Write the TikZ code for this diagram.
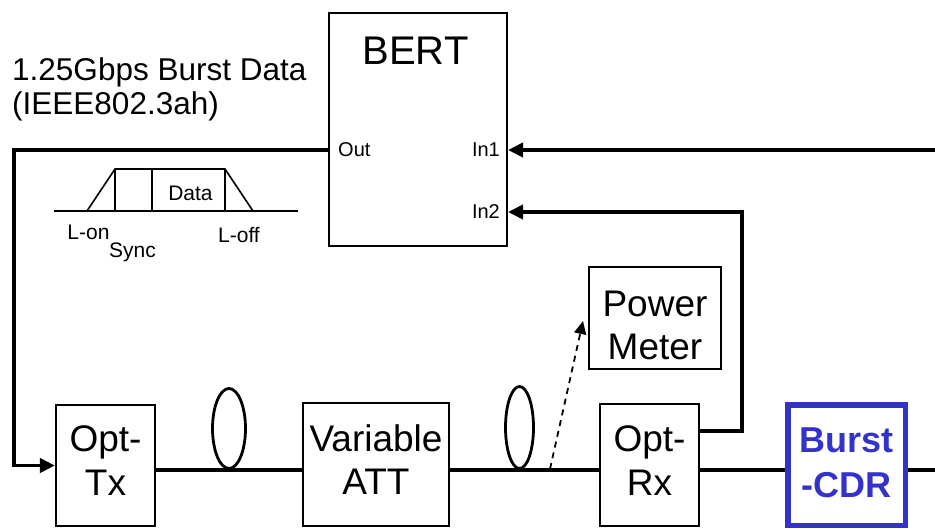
\documentclass[tikz,border=0pt]{standalone}
\usepackage{fontspec}
\setmainfont{Liberation Sans}
\usepackage{tikz}
\usetikzlibrary{arrows.meta, shapes.geometric}
\usepackage{xcolor}
\definecolor{cdrblue}{RGB}{51,51,204}

\begin{document}
\begin{tikzpicture}[x=1pt, y=-1pt, >={Triangle[length=15pt, width=14pt]},
  box/.style={draw, line width=1.6pt, inner sep=0pt, align=center, font=\fontsize{37}{43.5}\selectfont},
  sig/.style={line width=3.8pt},
  fibre/.style={line width=3.4pt},
  coil/.style={draw, ellipse, line width=2.8pt, inner sep=0pt},
  port/.style={inner sep=0pt, font=\fontsize{20}{22}\selectfont},
  small/.style={inner sep=0pt, font=\fontsize{21}{24}\selectfont}]

  \useasboundingbox (0,0) rectangle (935,528);

  % Draw BERT first
  \node[draw, line width=1.6pt, minimum width=178.4pt, minimum height=233.4pt] (bert) at (418,129.5) {};
  \node[anchor=base, inner sep=0pt, font=\fontsize{40}{44}\selectfont] (berttitle) at (415.5,64) {BERT};
  \node[port, anchor=west] (outlbl) at (338,150) {Out};
  \node[port, anchor=east] (in1lbl) at (500,150) {In1};
  \node[port, anchor=east] (in2lbl) at (500,212) {In2};

  % Burst data label
  \node[anchor=base west, inner sep=0pt, font=\fontsize{31.5}{36}\selectfont] (ratelbl) at (12,80.5) {1.25Gbps Burst Data};
  \node[anchor=base west, inner sep=0pt, font=\fontsize{31.5}{36}\selectfont] (stdlbl) at (12,114) {(IEEE802.3ah)};

  % Burst frame
  \draw[line width=1.6pt] (54,211) -- (298,211);
  \draw[line width=1.6pt] (87,211) -- (115,169) -- (225,169) -- (253,211);
  \draw[line width=1.6pt] (115,169) -- (115,211);
  \draw[line width=1.6pt] (152,169) -- (152,211);
  \draw[line width=1.6pt] (225,169) -- (225,211);
  \node[small] (datalbl) at (190.5,193) {Data};
  \node[small] (lonlbl) at (88.5,232) {L-on};
  \node[small] (synclbl) at (132.5,252.5) {Sync};
  \node[small] (lofflbl) at (239,235) {L-off};

  % Optical path
  \node[box, text depth=10pt, minimum width=99.5pt, minimum height=121.5pt] (opttx) at (105.5,465.5) {Opt-\\Tx};
  \node[coil, minimum width=33pt, minimum height=80pt] (coil1) at (229,428.5) {};
  \node[box, text depth=10pt, minimum width=146.5pt, minimum height=123.5pt] (varatt) at (376,464.5) {Variable\\ATT};
  \node[coil, minimum width=28pt, minimum height=82pt] (coil2) at (519.5,427.5) {};
  \node[box, text depth=9pt, minimum width=99.5pt, minimum height=122.5pt] (optrx) at (649.5,465) {Opt-\\Rx};
  \node[box, text height=84pt, minimum width=132.5pt, minimum height=102.5pt] (pmeter) at (655,318) {Power\\Meter};
  \node[box, draw=cdrblue, line width=5.5pt, text=cdrblue, font=\bfseries\fontsize{36}{45}\selectfont,
        text depth=5pt, minimum width=117.5pt, minimum height=120.5pt] (burstcdr) at (846.5,465) {Burst\\-CDR};

  \draw[fibre] (opttx.east |- coil1.south) -- (varatt.west |- coil1.south);
  \draw[fibre] (varatt.east |- coil2.south) -- (optrx.west |- coil2.south);
  \draw[sig] (optrx.east |- coil2.south) -- (burstcdr.west |- coil2.south);
  \coordinate (rgt2) at (935,470);
  \draw[sig] (burstcdr.east |- coil2.south) -- (rgt2);

  % Tap to power meter
  \coordinate (tap) at (550,469);
  \coordinate (pmtip) at (583,321);
  \draw[dashed, dash pattern=on 6pt off 5pt, line width=1.8pt, -{Triangle[length=13pt, width=12pt]}] (tap) -- (pmtip);

  % Signal lines
  \coordinate (lft) at (14,300);
  \draw[sig, ->] (bert.west |- outlbl) -| (lft) |- (opttx);
  \coordinate (rgt1) at (935,150);
  \draw[sig, <-] (bert.east |- in1lbl) -- (rgt1);
  \coordinate (rxtap) at (742,300);
  \draw[sig, ->] ([yshift=34pt]optrx.east) -| (rxtap) |- (bert.east |- in2lbl);
\end{tikzpicture}
\end{document}
